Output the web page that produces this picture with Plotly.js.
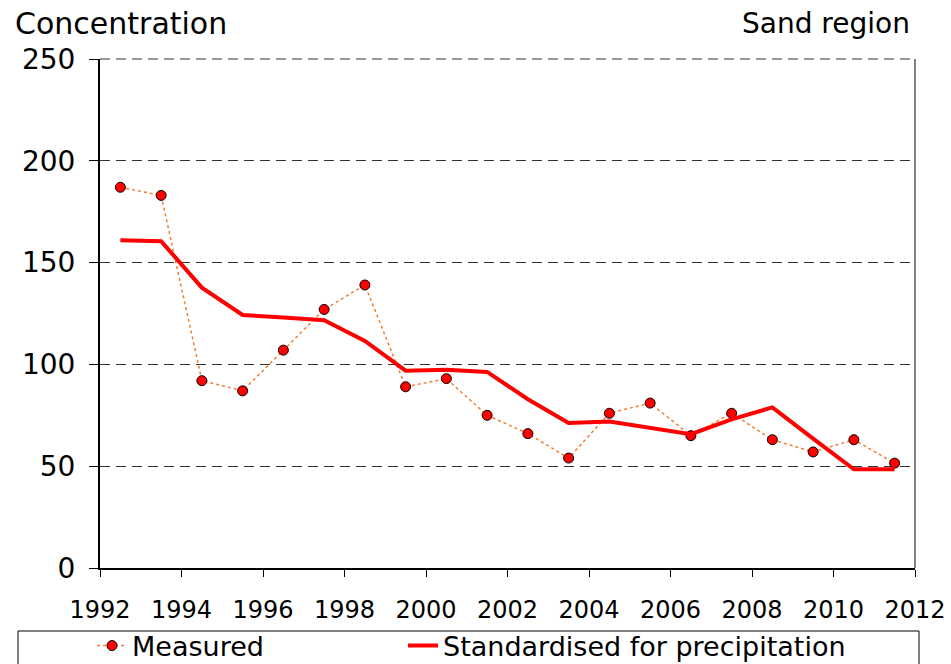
<!DOCTYPE html>
<html>
<head>
<meta charset="utf-8">
<script src="https://cdn.plot.ly/plotly-3.0.1.min.js"></script>
<style>html,body{margin:0;padding:0;background:#fff;}#chart{width:951px;height:664px;}</style>
</head>
<body>
<div id="chart"></div>
<script>
const years = [1992,1993,1994,1995,1996,1997,1998,1999,2000,2001,2002,2003,2004,2005,2006,2007,2008,2009,2010,2011];
const measured = [187,183,92,87,107,127,139,89,93,75,66,54,76,81,65,76,63,57,63,51.5];
const standardised = [161,160.5,137.7,124.3,123,121.7,111.5,96.9,97.4,96.3,82.9,71.2,71.9,68.9,65.7,73,78.9,63.5,48.5,48.5];
const xTickVals = [1992,1994,1996,1998,2000,2002,2004,2006,2008,2010,2012];
const yTickVals = [0,50,100,150,200,250];
const seriesNames = ['Measured','Standardised for precipitation'];

const xMid = years.map(y => y + 0.5);
const FONT = 'DejaVu Sans, Verdana, sans-serif';
const px2x = p => (p - 100) / 815;
const px2y = p => (568 - p) / 509;

const traces = [
  {
    x: xMid, y: measured, name: seriesNames[0], type: 'scatter', mode: 'lines+markers',
    line: {color: '#F47C30', width: 1.5, dash: 'dot'},
    marker: {color: '#FF0000', size: 10, line: {color: '#000000', width: 1}},
    legend: 'legend'
  },
  {
    x: xMid, y: standardised, name: seriesNames[1], type: 'scatter', mode: 'lines',
    line: {color: '#FF0000', width: 4},
    legend: 'legend2'
  }
];

const legendCommon = {
  orientation: 'h', xanchor: 'left', yanchor: 'middle', y: px2y(646),
  font: {family: FONT, size: 27, color: '#000'},
  bgcolor: 'rgba(0,0,0,0)', borderwidth: 0
};

const layout = {
  width: 951, height: 664,
  margin: {l: 100, r: 36, t: 59, b: 96, autoexpand: false},
  paper_bgcolor: '#ffffff', plot_bgcolor: '#ffffff',
  font: {family: FONT, color: '#000000'},
  showlegend: true,
  legend: Object.assign({}, legendCommon, {x: px2x(92)}),
  legend2: Object.assign({}, legendCommon, {x: px2x(403)}),
  xaxis: {
    range: [1992, 2012], tickmode: 'array', tickvals: xTickVals,
    ticks: 'outside', ticklen: 7, tickcolor: '#000', tickwidth: 1,
    showline: true, linecolor: '#000', linewidth: 2,
    showgrid: false, zeroline: false,
    tickfont: {family: FONT, size: 24, color: '#000'},
    ticklabelstandoff: 12, fixedrange: true
  },
  yaxis: {
    range: [0, 250], tickmode: 'array', tickvals: yTickVals,
    ticks: 'outside', ticklen: 9, tickcolor: '#000', tickwidth: 1,
    showline: true, linecolor: '#000', linewidth: 2,
    showgrid: true, gridcolor: '#333333', gridwidth: 1, griddash: '10px,6px',
    zeroline: false,
    tickfont: {family: FONT, size: 28, color: '#000'},
    ticklabelstandoff: 8, fixedrange: true
  },
  shapes: [
    {type: 'line', xref: 'paper', yref: 'paper', x0: 0, x1: 1, y0: 1, y1: 1,
     line: {color: '#333333', width: 1, dash: '10px,6px'}},
    {type: 'line', xref: 'paper', yref: 'paper', x0: 1, x1: 1, y0: 0, y1: 1,
     line: {color: '#808080', width: 2}},
    {type: 'rect', xref: 'paper', yref: 'paper',
     x0: px2x(18), x1: px2x(919), y0: px2y(631), y1: px2y(680),
     line: {color: '#000', width: 1}, fillcolor: 'rgba(0,0,0,0)'}
  ],
  annotations: [
    {text: 'Concentration', xref: 'paper', yref: 'paper', x: px2x(13), y: px2y(24),
     xanchor: 'left', yanchor: 'middle', showarrow: false, font: {family: FONT, size: 30, color: '#000'}},
    {text: 'Sand region', xref: 'paper', yref: 'paper', x: px2x(912), y: px2y(24),
     xanchor: 'right', yanchor: 'middle', showarrow: false, font: {family: FONT, size: 28, color: '#000'}}
  ]
};

Plotly.newPlot('chart', traces, layout, {displayModeBar: false, staticPlot: true});
</script>
</body>
</html>
